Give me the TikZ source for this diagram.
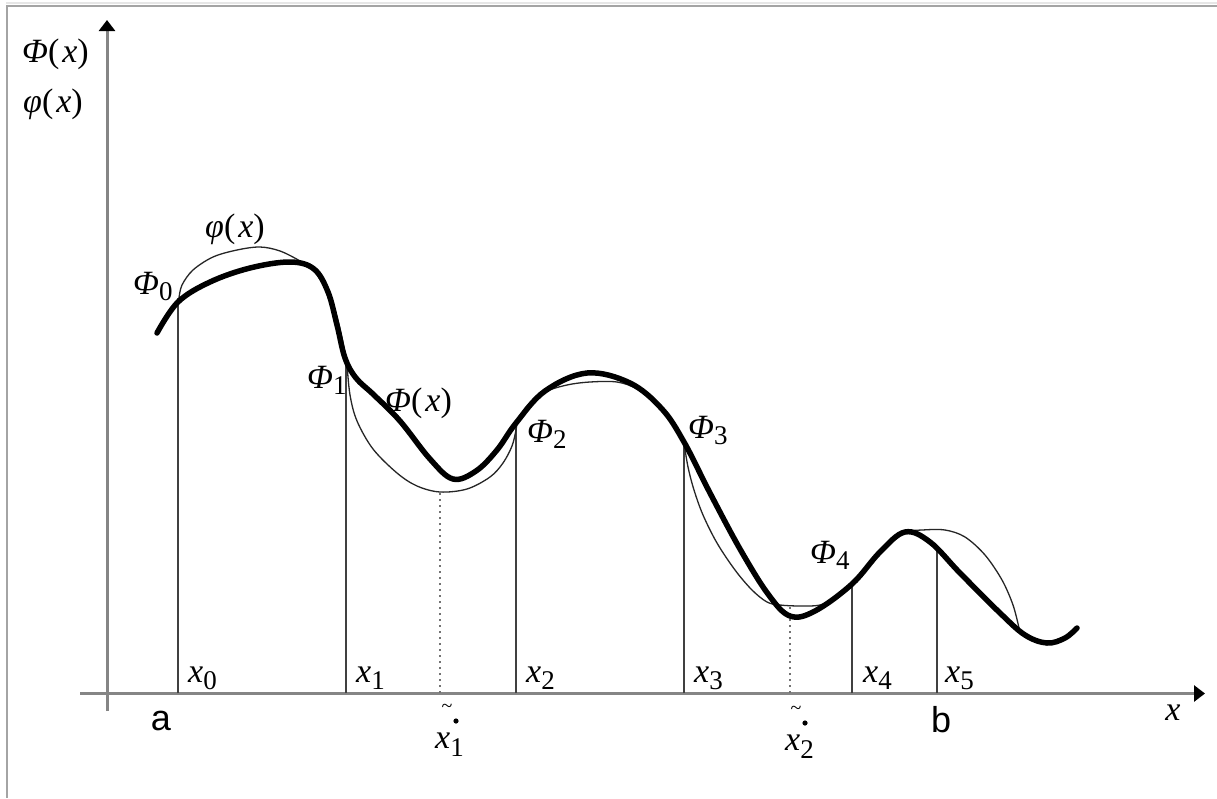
\documentclass[tikz,border=0pt]{standalone}
\usepackage{fontspec}
\setmainfont{Liberation Serif}
\newfontfamily\sansf{Liberation Sans}
\usetikzlibrary{arrows.meta}
\newcommand\mainsz{\fontsize{34}{36}\selectfont}
\newcommand\subsz{\fontsize{27}{28}\selectfont}
\newcommand\Lbl[3]{{\mainsz\itshape #1}\raisebox{#3}{\subsz #2}}
\newcommand\Fx[1]{{\mainsz\itshape #1}{\mainsz(\hspace{3pt}{\itshape x})}}
\definecolor{axisgray}{HTML}{858585}
\definecolor{framegray}{HTML}{A4A4A4}
\definecolor{framelight}{HTML}{E6E6E6}
\begin{document}
\begin{tikzpicture}[x=1pt,y=-1pt,
  axis/.style={draw=axisgray, line width=3pt, -{Triangle[length=11pt,width=16pt,color=black]}},
  ordinate/.style={draw=black!75, line width=1.4pt},
  auxline/.style={draw=black!55, line width=1.2pt, dash pattern=on 2pt off 4pt},
  phithin/.style={draw=black!85, line width=1.3pt},
  Phithick/.style={draw=black, line width=5.5pt, line cap=round},
  lab/.style={inner sep=0pt, anchor=base west},
  sanslab/.style={inner sep=0pt, font=\sansf\fontsize{36}{38}\selectfont}]
\useasboundingbox (0,0) rectangle (1217,798);
\fill[white] (0,0) rectangle (1217,798);
% frame
\draw[framelight, line width=1.5pt] (6,3.2) -- (1217,3.2);
\draw[framegray, line width=2.2pt] (6,5.6) -- (1217,5.6);
\draw[framegray, line width=2pt] (7,5) -- (7,798);

% axes
\coordinate (XL) at (80,693.5);
\coordinate (XR) at (1205,693.5);
\coordinate (YB) at (107,711);
\coordinate (YT) at (107,20);
\draw[axis] (XL) -- (XR);
\draw[axis] (YB) -- (YT);

% nodes on axis and on curve
\coordinate (a0) at (178,693); \coordinate (P0) at (178,298);
\coordinate (a1) at (346,693); \coordinate (P1) at (346,364);
\coordinate (a2) at (516,693); \coordinate (P2) at (516,422);
\coordinate (a3) at (684,693); \coordinate (P3) at (684,443);
\coordinate (a4) at (852,693); \coordinate (P4) at (852,585);
\coordinate (a5) at (937,693); \coordinate (P5) at (937,548);
\coordinate (t1) at (440,693); \coordinate (T1) at (440,492);
\coordinate (t2) at (790,693); \coordinate (T2) at (790,606);

\foreach \i in {0,...,5} \draw[ordinate] (a\i) -- (P\i);
\draw[auxline] (t1) -- (T1);
\draw[auxline] (t2) -- (T2);

% thin curve phi(x)
\draw[phithin] plot[smooth, tension=0.55] coordinates {(179,298) (182,285) (193,270) (213,257) (237,250) (260,247) (280,251) (300,261) (314,271) (325,288) (335,310) (342,338) (347,364)};
\draw[phithin] plot[smooth, tension=0.55] coordinates {(347,364) (350,395) (357,421) (373,449) (397,473) (417,486) (440,492) (467,489) (490,477) (503,463) (512,446) (516,430) (517,422)};
\draw[phithin] plot[smooth, tension=0.55] coordinates {(517,422) (527,406) (545,392) (567,385) (590,382) (617,382) (637,389) (660,406) (675,425) (684,443)};
\draw[phithin] plot[smooth, tension=0.55] coordinates {(684,443) (688,467) (694,490) (703,515) (717,543) (735,570) (752,590) (767,602) (780,605) (800,606) (820,605) (837,597) (852,584)};
\draw[phithin] plot[smooth, tension=0.55] coordinates {(852,584) (877,557) (890,541) (905,532) (922,530) (945,530) (965,537) (985,555) (1002,580) (1013,605) (1019,628)};

% thick curve Phi(x)
\draw[Phithick] plot[smooth, tension=0.6] coordinates {(157,333) (178,302) (210,282) (250,268) (290,262) (314,269) (328,292) (337,325) (345,358) (356,378) (374,395) (400,421) (430,459) (453,479) (476,471) (497,450) (516,423) (545,391) (587,373) (630,383) (662,409) (684,442) (710,493) (740,549) (768,594) (790,616) (815,611) (852,584) (880,552) (905,532) (930,542) (960,573) (1000,613) (1025,635) (1047,643) (1065,638) (1077,628)};

% labels
\node[lab] (ly1) at (22,62) {\Fx{Φ}};
\node[lab] (ly2) at (23,112) {\Fx{φ}};
\node[lab] (lphi) at (205,237) {\Fx{φ}};
\node[lab] (lPhi) at (385,411) {\Fx{Φ}};
\node[lab] (F0) at (133,294) {\Lbl{Φ}{0}{-6pt}};
\node[lab] (F1) at (307,388) {\Lbl{Φ}{1}{-6pt}};
\node[lab] (F2) at (527,442) {\Lbl{Φ}{2}{-6pt}};
\node[lab] (F3) at (688,438) {\Lbl{Φ}{3}{-6pt}};
\node[lab] (F4) at (810,563) {\Lbl{Φ}{4}{-6pt}};

\node[lab] (x0) at (188,682) {\Lbl{x}{0}{-7pt}};
\node[lab] (x1) at (356,682) {\Lbl{x}{1}{-7pt}};
\node[lab] (x2) at (526,682) {\Lbl{x}{2}{-7pt}};
\node[lab] (x3) at (694,682) {\Lbl{x}{3}{-7pt}};
\node[lab] (x4) at (863,682) {\Lbl{x}{4}{-7pt}};
\node[lab] (x5) at (945,682) {\Lbl{x}{5}{-7pt}};

% tilde points
\node[inner sep=0pt, font=\fontsize{20}{20}\selectfont] (tl1) at (447,708) {\textasciitilde};
\fill (456,721) circle (2.6pt);
\node[lab] (xt1) at (435,748) {\Lbl{x}{1}{-8pt}};
\node[inner sep=0pt, font=\fontsize{20}{20}\selectfont] (tl2) at (796,710) {\textasciitilde};
\fill (805,723) circle (2.6pt);
\node[lab] (xt2) at (785,750) {\Lbl{x}{2}{-8pt}};

\node[sanslab] (la) at (161,721) {a};
\node[sanslab] (lb) at (941,720) {b};
\node[inner sep=0pt, font=\mainsz\itshape] (lx) at (1173,713) {x};
\end{tikzpicture}
\end{document}
